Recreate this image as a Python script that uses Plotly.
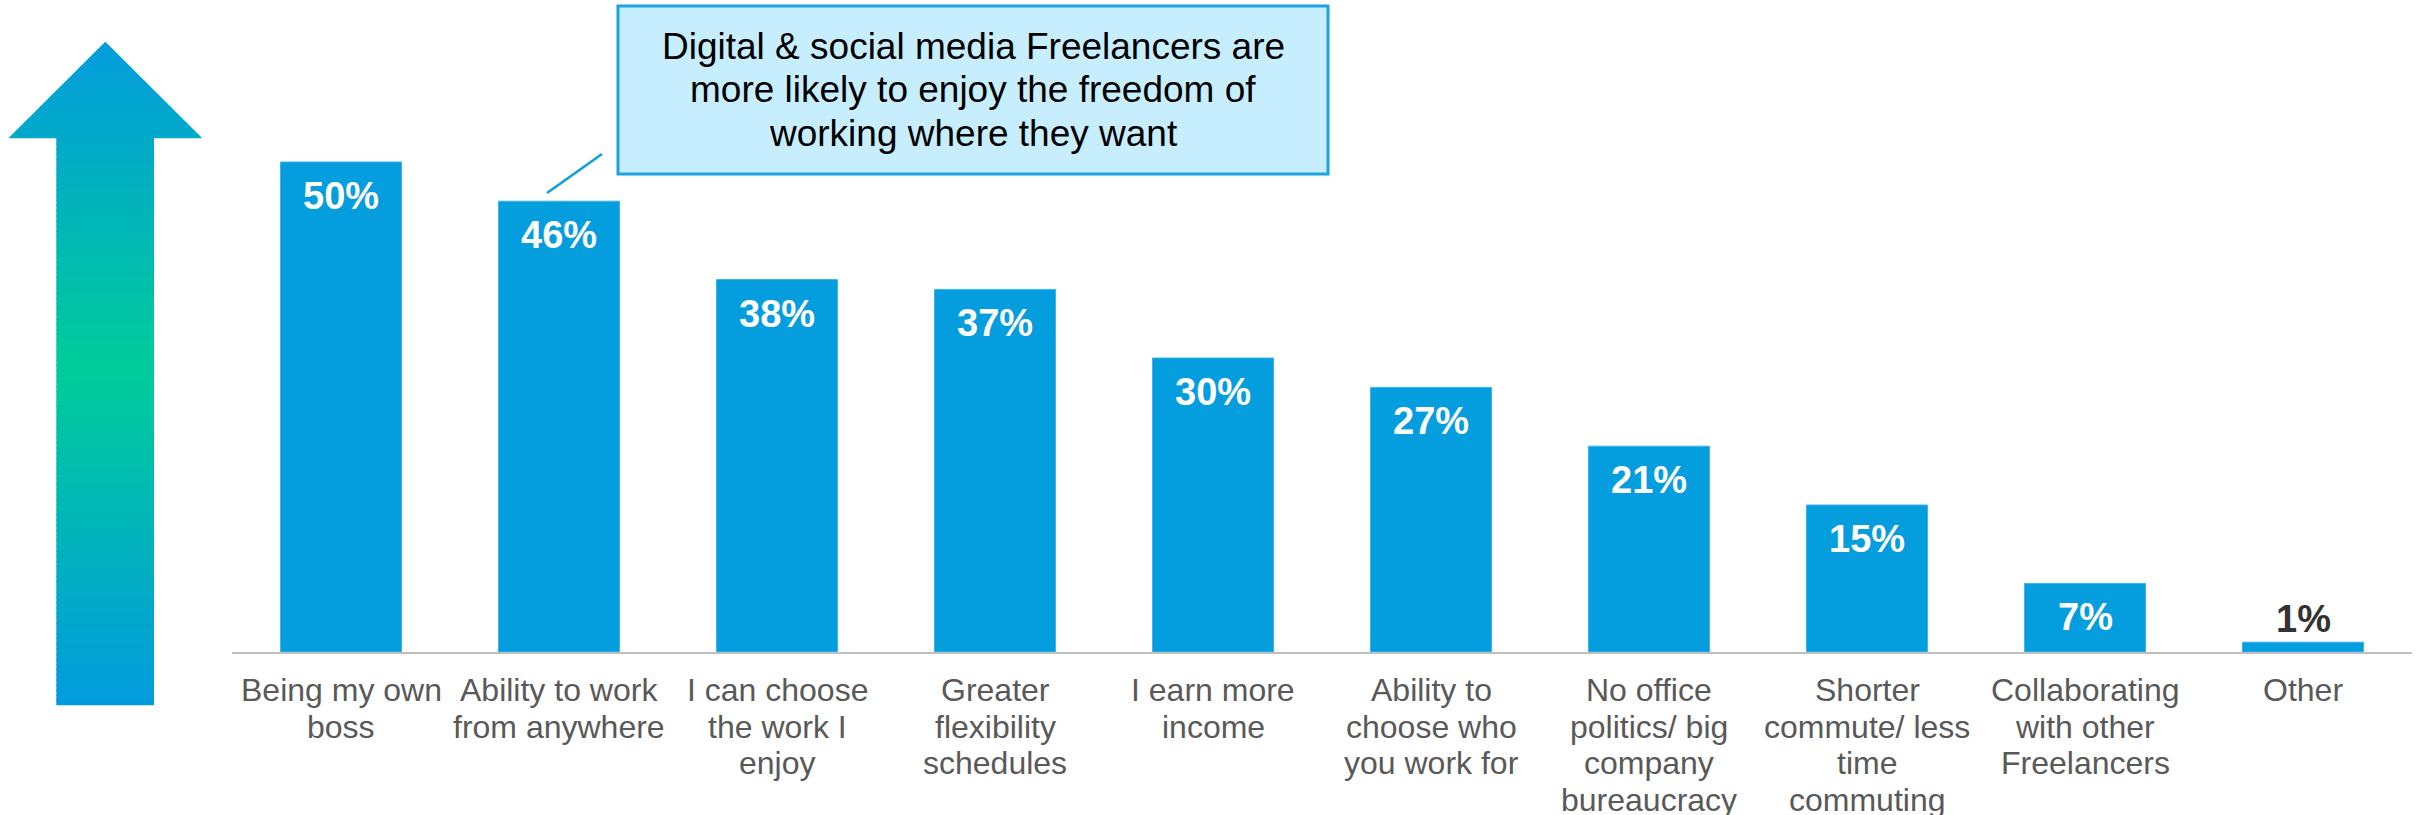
import plotly.graph_objects as go

# Survey results: reasons freelancers enjoy freelancing
categories = [
    "Being my own boss",
    "Ability to work from anywhere",
    "I can choose the work I enjoy",
    "Greater flexibility schedules",
    "I earn more income",
    "Ability to choose who you work for",
    "No office politics/ big company bureaucracy",
    "Shorter commute/ less time commuting",
    "Collaborating with other Freelancers",
    "Other",
]
label_lines = [
    ["Being my own", "boss"],
    ["Ability to work", "from anywhere"],
    ["I can choose", "the work I", "enjoy"],
    ["Greater", "flexibility", "schedules"],
    ["I earn more", "income"],
    ["Ability to", "choose who", "you work for"],
    ["No office", "politics/ big", "company", "bureaucracy"],
    ["Shorter", "commute/ less", "time", "commuting"],
    ["Collaborating", "with other", "Freelancers"],
    ["Other"],
]
values = [50, 46, 38, 37, 30, 27, 21, 15, 7, 1]
callout_lines = [
    "Digital & social media Freelancers are",
    "more likely to enjoy the freedom of",
    "working where they want",
]

W, H = 2420, 815
L, R, T, B = 232, 8, 100, 163
PLOT_W = W - L - R
PLOT_H = H - T - B
Y_MAX = PLOT_H / 9.8

FONT = "Liberation Sans, Arial, Helvetica, sans-serif"
BAR = "#049DDE"


def px_x(px):
    return (px - L) / PLOT_W


def px_y(py):
    return (H - B - py) / PLOT_H


fig = go.Figure(
    go.Bar(
        x=categories,
        y=values,
        marker=dict(color=BAR, line=dict(color="#3FB2E6", width=1)),
        width=121 / 218,
        hoverinfo="skip",
    )
)

annotations = []

# value labels inside bar tops (white) and above the smallest bar (dark)
for cat, v in zip(categories, values):
    inside = v >= 5
    annotations.append(dict(
        x=cat, y=v, xref="x", yref="y",
        text=f"{v}%", showarrow=False,
        yanchor="middle", xanchor="center",
        yshift=-34 if inside else 23,
        font=dict(family=FONT, size=38, color="white" if inside else "#333333",
                  weight="bold"),
    ))

# category labels, one annotation per line for tight line spacing
for cat, lines in zip(categories, label_lines):
    for i, line in enumerate(lines):
        annotations.append(dict(
            x=cat, y=0, xref="x", yref="paper",
            text=line, showarrow=False,
            yanchor="middle", xanchor="center",
            yshift=-(38 + 36.7 * i),
            font=dict(family=FONT, size=32, color="#595959"),
        ))

# callout text
box_x0, box_x1, box_y0, box_y1 = 618, 1328, 6, 174
for i, line in enumerate(callout_lines):
    annotations.append(dict(
        x=px_x((box_x0 + box_x1) / 2), y=px_y(46 + 43.7 * i),
        xref="paper", yref="paper",
        text=line, showarrow=False,
        yanchor="middle", xanchor="center",
        font=dict(family=FONT, size=37, color="#000000"),
    ))

shapes = []

# callout box and leader line
shapes.append(dict(
    type="rect", xref="paper", yref="paper",
    x0=px_x(box_x0), x1=px_x(box_x1), y0=px_y(box_y1), y1=px_y(box_y0),
    fillcolor="#C6EEFE", line=dict(color="#1DA3E0", width=3), layer="above",
))
shapes.append(dict(
    type="line", xref="paper", yref="paper",
    x0=px_x(547), y0=px_y(193), x1=px_x(602), y1=px_y(154),
    line=dict(color="#0AA0DE", width=2.5),
))

# gradient arrow on the left, built from thin horizontal bands
tip_x, tip_y = 105.3, 41.7
head_y, head_x0, head_x1 = 138.3, 8.0, 202.0
shaft_x0, shaft_x1, bottom_y = 56.3, 154.0, 705.3
green_y = 370.0
blue = (3, 155, 221)
green = (0, 204, 153)


def grad_color(y):
    t = min(1.0, abs(y - green_y) / 333.0)
    c = [round(g * (1 - t) + b * t) for g, b in zip(green, blue)]
    return "rgb({},{},{})".format(*c)


def half_width(y):
    if y >= head_y:
        return None
    return (head_x1 - head_x0) / 2 * (y - tip_y) / (head_y - tip_y)


n_head = 24
for k in range(n_head):
    ya = tip_y + (head_y - tip_y) * k / n_head
    yb = tip_y + (head_y - tip_y) * (k + 1) / n_head
    yb2 = min(head_y, yb + 0.8)
    wa, wb = half_width(ya), (head_x1 - head_x0) / 2 * (yb2 - tip_y) / (head_y - tip_y)
    path = "M {} {} L {} {} L {} {} L {} {} Z".format(
        px_x(tip_x - wa), px_y(ya), px_x(tip_x + wa), px_y(ya),
        px_x(tip_x + wb), px_y(yb2), px_x(tip_x - wb), px_y(yb2))
    shapes.append(dict(type="path", xref="paper", yref="paper", path=path,
                       fillcolor=grad_color((ya + yb) / 2), line=dict(width=0),
                       layer="below"))

n_shaft = 110
for k in range(n_shaft):
    ya = head_y + (bottom_y - head_y) * k / n_shaft - (0.8 if k == 0 else 0)
    yb = head_y + (bottom_y - head_y) * (k + 1) / n_shaft
    yb2 = min(bottom_y, yb + 0.8)
    shapes.append(dict(type="rect", xref="paper", yref="paper",
                       x0=px_x(shaft_x0), x1=px_x(shaft_x1),
                       y0=px_y(yb2), y1=px_y(ya),
                       fillcolor=grad_color((ya + yb) / 2), line=dict(width=0),
                       layer="below"))

fig.update_layout(
    width=W, height=H,
    margin=dict(l=L, r=R, t=T, b=B, pad=0),
    paper_bgcolor="white", plot_bgcolor="white",
    showlegend=False,
    xaxis=dict(showline=True, linecolor="#BFBFBF", linewidth=2,
               showticklabels=False, ticks="", showgrid=False, zeroline=False,
               fixedrange=True),
    yaxis=dict(visible=False, range=[0, Y_MAX], fixedrange=True),
    annotations=annotations,
    shapes=shapes,
)

fig.write_html("out.html", config={"displayModeBar": False})
